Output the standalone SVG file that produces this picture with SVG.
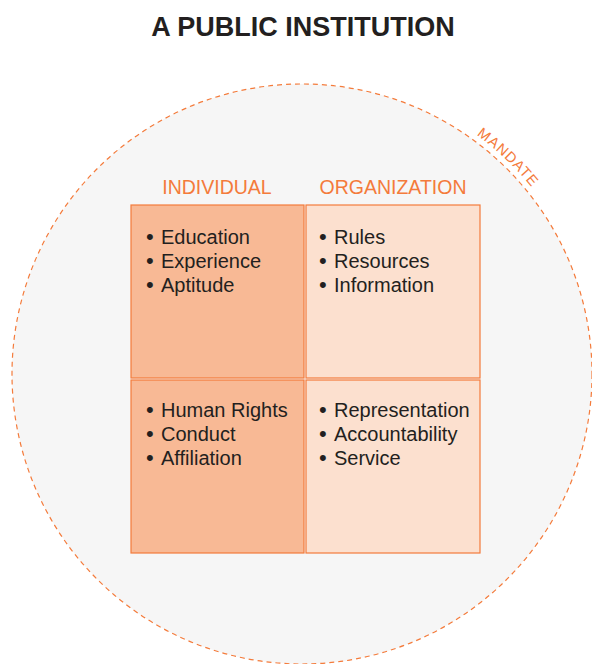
<svg xmlns="http://www.w3.org/2000/svg" width="592" height="664" viewBox="0 0 592 664">
<style>
.title{font-family:"Liberation Sans",Arial,sans-serif;font-weight:bold;font-size:27px;fill:#231f20}
.head{font-family:"Liberation Sans",Arial,sans-serif;font-size:19.5px;fill:#f47b3b}
.item{font-family:"Liberation Sans",Arial,sans-serif;font-size:20px;fill:#231f20}
.b{font-size:22px}
.ind{fill:#f8b995;stroke:#f47b3b;stroke-width:1.2}
.org{fill:#fce0cf;stroke:#f47b3b;stroke-width:1.2}
.mandate{font-family:"Liberation Sans",Arial,sans-serif;font-size:14.5px;fill:#f47b3b;letter-spacing:1px}
</style>
<defs>
<path id="arc" d="M 302 78 A 296 296 0 0 1 598 374"/>
</defs>
<rect width="592" height="664" fill="#ffffff"/>
<text class="title" x="303" y="36" text-anchor="middle">A PUBLIC INSTITUTION</text>
<g id="mandate">
<circle cx="302" cy="374" r="290" fill="#f6f6f6" stroke="#f47b3b" stroke-width="1.2" stroke-dasharray="5 4"/>
<text class="mandate"><textPath href="#arc" startOffset="225" text-anchor="middle">MANDATE</textPath></text>
</g>
<text class="head" x="217" y="194" text-anchor="middle">INDIVIDUAL</text>
<text class="head" x="393" y="194" text-anchor="middle">ORGANIZATION</text>
<g id="ind-top">
<rect class="ind" x="131" y="205" width="173" height="173"/>
<text class="item"><tspan class="b" x="146" y="244">•</tspan><tspan x="161">Education</tspan></text>
<text class="item"><tspan class="b" x="146" y="268">•</tspan><tspan x="161">Experience</tspan></text>
<text class="item"><tspan class="b" x="146" y="292">•</tspan><tspan x="161">Aptitude</tspan></text>
</g>
<g id="org-top">
<rect class="org" x="306" y="205" width="174" height="173"/>
<text class="item"><tspan class="b" x="319" y="244">•</tspan><tspan x="334">Rules</tspan></text>
<text class="item"><tspan class="b" x="319" y="268">•</tspan><tspan x="334">Resources</tspan></text>
<text class="item"><tspan class="b" x="319" y="292">•</tspan><tspan x="334">Information</tspan></text>
</g>
<g id="ind-bottom">
<rect class="ind" x="131" y="380" width="173" height="173"/>
<text class="item"><tspan class="b" x="146" y="417">•</tspan><tspan x="161">Human Rights</tspan></text>
<text class="item"><tspan class="b" x="146" y="441">•</tspan><tspan x="161">Conduct</tspan></text>
<text class="item"><tspan class="b" x="146" y="465">•</tspan><tspan x="161">Affiliation</tspan></text>
</g>
<g id="org-bottom">
<rect class="org" x="306" y="380" width="174" height="173"/>
<text class="item"><tspan class="b" x="319" y="417">•</tspan><tspan x="334">Representation</tspan></text>
<text class="item"><tspan class="b" x="319" y="441">•</tspan><tspan x="334">Accountability</tspan></text>
<text class="item"><tspan class="b" x="319" y="465">•</tspan><tspan x="334">Service</tspan></text>
</g>
<g id="connectors"></g>
</svg>
